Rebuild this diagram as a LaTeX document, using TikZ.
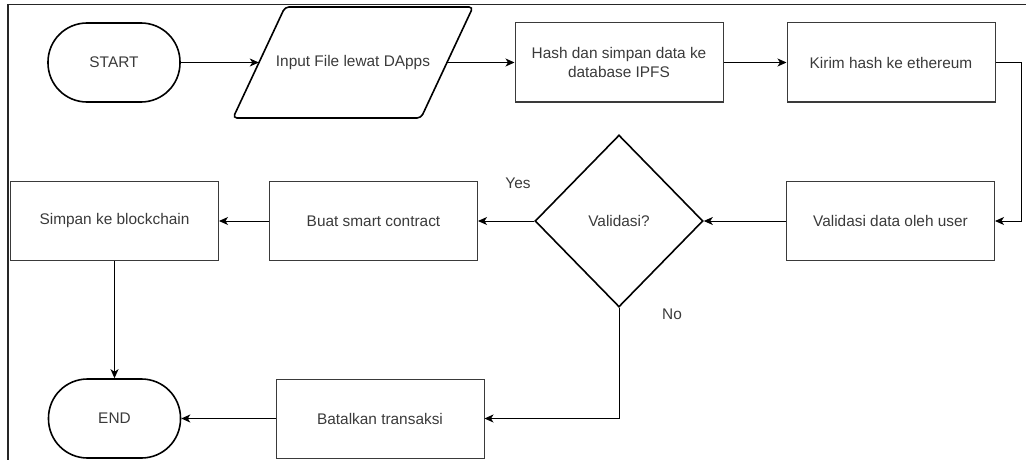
\documentclass[tikz,border=0pt]{standalone}
\usepackage{fontspec}
\setmainfont{Liberation Sans}
\usetikzlibrary{arrows.meta,shapes.geometric,calc}
\definecolor{ink}{HTML}{3A3A3A}
\begin{document}
\begin{tikzpicture}[x=1pt,y=-1pt,
  font=\fontsize{15.4}{18.5}\selectfont,
  box/.style={draw=ink, line width=1pt, text=ink, minimum width=208pt,
    minimum height=79pt, inner sep=0pt, align=center},
  term/.style={draw=black, line width=1.6pt, rounded corners=39pt,
    minimum width=132pt, minimum height=79pt, text=ink},
  decide/.style={draw=black, line width=1.6pt, diamond, minimum width=168pt,
    minimum height=172pt, inner sep=0pt, text=ink},
  flow/.style={draw=black, line width=1pt,
    -{Stealth[length=9pt,width=8pt,inset=2.5pt]}},
  lbl/.style={text=ink}]

\useasboundingbox (0,0) rectangle (1026,460);

% outer frame (top and left edges)
\draw[line width=1.6pt, black!85] (1026,4.5) -- (8,4.5) -- (8,460);

% process steps
\node[term] (start) at (114,62.5) {START};
\node[minimum width=188pt, minimum height=111pt, inner sep=0pt, text=ink]
  (input) at (353,62.5) {Input File lewat DApps};
\draw[line width=1.6pt, rounded corners=4pt]
  ($(input.center)+(-120,55.5)$) -- ++(52,-111) -- ++(188,0)
  -- ++(-52,111) -- cycle;
\node[box] (hash) at (619,62.5) {Hash dan simpan data ke\\database IPFS};
\node[box] (kirim) at (891,62.5) {Kirim hash ke ethereum};
\node[box] (valid) at (890.5,221) {Validasi data oleh user};
\node[decide] (dec) at (619,221) {Validasi?};
\node[box] (buat) at (373.5,221) {Buat smart contract};
\node[box] (simpan) at (114.5,221) {Simpan ke blockchain};
\node[term] (end) at (114.5,418.5) {END};
\node[box] (batal) at (380,418.5) {Batalkan transaksi};

% branch labels
\node[lbl] (yes) at (518,183) {Yes};
\node[lbl] (no) at (672,314) {No};

% connectors
\draw[flow] (start) -- (input);
\draw[flow] (input) -- (hash);
\draw[flow] (hash) -- (kirim);
\draw[flow] (kirim.east) -- ++(26,0) |- (valid.east);
\draw[flow] (valid) -- (dec);
\draw[flow] (dec) -- (buat);
\draw[flow] (buat) -- (simpan);
\draw[flow] (simpan) -- (end);
\draw[flow] (dec.south) |- (batal.east);
\draw[flow] (batal) -- (end);
\end{tikzpicture}
\end{document}
